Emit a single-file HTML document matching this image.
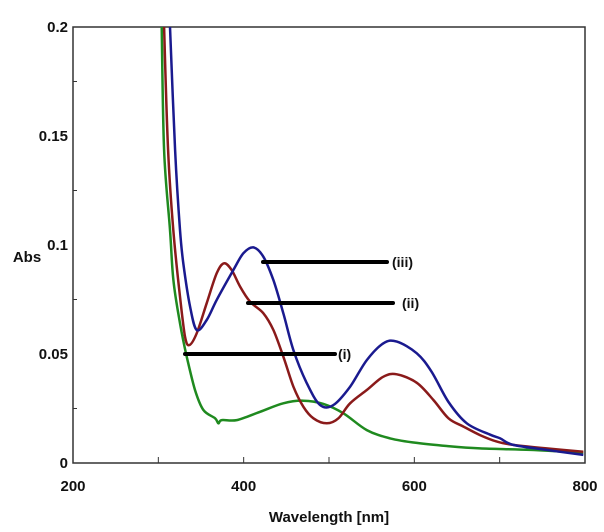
<!DOCTYPE html>
<html><head><meta charset="utf-8"><style>
html,body{margin:0;padding:0;background:#fff;}
svg{display:block;font-family:"Liberation Sans",sans-serif;font-weight:bold;}
</style></head><body>
<svg id="chart" width="604" height="532" viewBox="0 0 604 532" xmlns="http://www.w3.org/2000/svg">
<g id="axes"></g>
<g id="series"></g>
<g id="annot"></g>
</svg>
<script>
const xTicks=[200,400,600,800];
const xMinor=[300,400,500,600,700];
const yTicks=[0,0.05,0.1,0.15,0.2];
const yTickLabels=["0","0.05","0.1","0.15","0.2"];
const yMinor=[0.025,0.075,0.125,0.175];
const greenWl=[304,306.7,313.7,317.6,325.4,333.3,343,352.8,366.5,370.4,374.3,391.9,419.2,446.5,470,493.4,516.9,544.3,571.6,602.9,638,677,736,798];
const greenAbs=[0.2,0.1436,0.1069,0.0839,0.0641,0.0488,0.0335,0.0243,0.0205,0.0182,0.0197,0.0197,0.0235,0.0274,0.0286,0.0271,0.0228,0.0151,0.0113,0.0092,0.0078,0.0067,0.006,0.0047];
const redWl=[306.7,311.4,317.5,325.4,331.3,336.3,345,356.7,368.4,377,386,395.8,407.5,423,434.8,446.5,458.3,470,481.7,497.4,511,524.7,544.3,563.8,579.5,602.9,622.4,640,657.6,677,696.7,716,755,798];
const redAbs=[0.2,0.1436,0.1069,0.0763,0.058,0.0541,0.0595,0.0733,0.087,0.0916,0.0885,0.0809,0.074,0.0687,0.061,0.0488,0.035,0.0258,0.0205,0.0182,0.0205,0.0274,0.0335,0.0396,0.0407,0.0368,0.0289,0.0205,0.0167,0.0128,0.0098,0.0083,0.0067,0.0052];
const blueWl=[313.7,319.6,325.4,329.3,337.2,345,356.7,368.4,387.9,399.6,411.4,423.1,434.8,446.5,458.3,474,489.6,505.2,524.7,544.3,563.8,579.5,602.9,620,640,661.5,688.9,700.6,716,755,798];
const blueAbs=[0.2,0.1436,0.1069,0.0916,0.0717,0.061,0.0656,0.0748,0.0885,0.0962,0.0989,0.0946,0.0839,0.0687,0.0518,0.0366,0.0266,0.0266,0.035,0.0472,0.0549,0.0557,0.0503,0.042,0.028,0.0182,0.013,0.0113,0.0083,0.006,0.0037];
const X0=73,X1=585,Y0=463,Y1=27;
const xs=w=>X0+(w-200)/600*(X1-X0);
const ys=a=>Y0-a/0.2*(Y0-Y1);
const NS="http://www.w3.org/2000/svg";
function mk(tag,attrs,parent){const e=document.createElementNS(NS,tag);for(const k in attrs)e.setAttribute(k,attrs[k]);parent.appendChild(e);return e;}
const axes=document.getElementById('axes');
const frame=mk('rect',{x:X0,y:Y1,width:X1-X0,height:Y0-Y1,fill:'none',stroke:'#333','stroke-width':1.5},axes);


xMinor.forEach(v=>{const t=mk('line',{x1:xs(v),x2:xs(v),y1:Y0,y2:Y0-6,stroke:'#333','stroke-width':1},axes);

});
xTicks.forEach(v=>{const t=mk('text',{x:xs(v),y:491,'text-anchor':'middle','font-size':15,fill:'#111'},axes);t.textContent=v;

});
yMinor.forEach(v=>{const t=mk('line',{x1:X0,x2:X0+4,y1:ys(v),y2:ys(v),stroke:'#333','stroke-width':1},axes);

});
yTicks.forEach((v,i)=>{const t=mk('text',{x:68,y:ys(v)+5,'text-anchor':'end','font-size':15,fill:'#111'},axes);t.textContent=yTickLabels[i];

});
const xt=mk('text',{x:329,y:522,'text-anchor':'middle','font-size':15,fill:'#111'},axes);xt.textContent='Wavelength [nm]';


const yt=mk('text',{x:27,y:262,'text-anchor':'middle','font-size':15,fill:'#111'},axes);yt.textContent='Abs';


const ser=document.getElementById('series');
function smoothPath(P){
  let d='M'+P[0][0].toFixed(1)+','+P[0][1].toFixed(1);
  for(let i=0;i<P.length-1;i++){
    const p0=P[i-1]||P[i],p1=P[i],p2=P[i+1],p3=P[i+2]||P[i+1];
    const c1=[p1[0]+(p2[0]-p0[0])/6,p1[1]+(p2[1]-p0[1])/6];
    const c2=[p2[0]-(p3[0]-p1[0])/6,p2[1]-(p3[1]-p1[1])/6];
    d+=' C'+c1[0].toFixed(1)+','+c1[1].toFixed(1)+' '+c2[0].toFixed(1)+','+c2[1].toFixed(1)+' '+p2[0].toFixed(1)+','+p2[1].toFixed(1);
  }
  return d;
}
function line(wl,ab,color,name){
  const P=wl.map((w,i)=>[xs(w),ys(ab[i])]);
  const p=mk('path',{d:smoothPath(P),fill:'none',stroke:color,'stroke-width':2.5,'stroke-linejoin':'round'},ser);
  
  
}
line(greenWl,greenAbs,'#1f8a1f','series-i-green');
line(redWl,redAbs,'#8a1a1a','series-ii-red');
line(blueWl,blueAbs,'#1a1a8f','series-iii-blue');
const an=document.getElementById('annot');
const leaders=[[263,387,262,392,'(iii)'],[248,393,303,402,'(ii)'],[185,335,354,338,'(i)']];
leaders.forEach(l=>{
  const ln=mk('line',{x1:l[0],x2:l[1],y1:l[2],y2:l[2],stroke:'#000','stroke-width':4,'stroke-linecap':'round'},an);
  
  
  const t=mk('text',{x:l[3],y:l[2]+5,'font-size':14,fill:'#111'},an);t.textContent=l[4];
  
  
});
</script>
</body></html>
